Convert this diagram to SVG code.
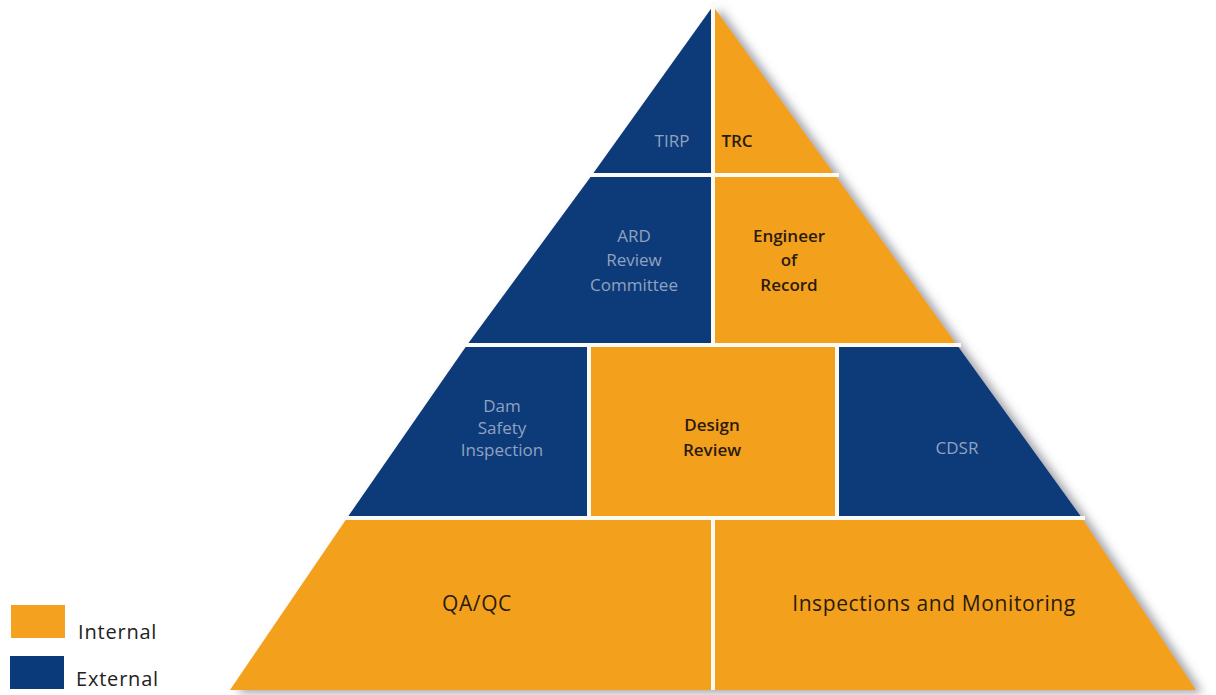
<svg xmlns="http://www.w3.org/2000/svg" width="1216" height="695" viewBox="0 0 1216 695">
<defs>
<filter id="sh" x="-10%" y="-10%" width="125%" height="125%">
<feDropShadow dx="7" dy="3" stdDeviation="5" flood-color="#555a66" flood-opacity="0.55"/>
</filter>
<style>
.org{fill:#F3A11E;}
.nav{fill:#0A3A79;}
.gap{stroke:#fbfaf4;stroke-width:4;fill:none;}
.tb{font-family:"Open Sans","Liberation Sans",sans-serif;font-size:17px;fill:#90A2C0;text-anchor:middle;}
.to{font-family:"Open Sans","Liberation Sans",sans-serif;font-size:17px;font-weight:600;fill:#2A1B0E;text-anchor:middle;}
.big{font-size:21px;font-weight:500;letter-spacing:0.6px;}
.lg{font-family:"Open Sans","Liberation Sans",sans-serif;font-size:20px;fill:#222;letter-spacing:0.8px;}
</style>
</defs>
<rect width="1216" height="695" fill="#fff"/>
<g id="pyramid" filter="url(#sh)">
<g id="tirp">
<polygon class="nav" points="713,6 713,175 592,175"/>
</g>
<g id="trc">
<polygon class="org" points="713,6 835,175 713,175"/>
</g>
<g id="ard">
<polygon class="nav" points="592,175 713,175 713,345 467,345"/>
</g>
<g id="eor">
<polygon class="org" points="713,175 835,175 957,345 713,345"/>
</g>
<g id="dsi">
<polygon class="nav" points="467,345 589,345 589,518 347,518"/>
</g>
<g id="dr">
<rect class="org" x="589" y="345" width="248" height="173"/>
</g>
<g id="cdsr">
<polygon class="nav" points="837,345 957,345 1082,518 837,518"/>
</g>
<g id="qaqc">
<polygon class="org" points="347,518 713,518 713,690 230,690"/>
</g>
<g id="im">
<polygon class="org" points="713,518 1082,518 1196,690 713,690"/>
</g>
</g>
<g id="gaps">
<line class="gap" x1="713" y1="2" x2="713" y2="345"/>
<line class="gap" x1="589" y1="175" x2="839" y2="175"/>
<line class="gap" x1="464" y1="345" x2="961" y2="345"/>
<line class="gap" x1="589" y1="345" x2="589" y2="518"/>
<line class="gap" x1="837" y1="345" x2="837" y2="518"/>
<line class="gap" x1="344" y1="518" x2="1085" y2="518"/>
<line class="gap" x1="713" y1="518" x2="713" y2="690"/>
</g>
<g id="labels">
<text class="tb" x="672" y="147">TIRP</text>
<text class="to" x="737" y="147">TRC</text>
<text class="tb" x="634" y="242">ARD</text>
<text class="tb" x="634" y="266">Review</text>
<text class="tb" x="634" y="291">Committee</text>
<text class="to" x="789" y="242">Engineer</text>
<text class="to" x="789" y="266">of</text>
<text class="to" x="789" y="291">Record</text>
<text class="tb" x="502" y="412">Dam</text>
<text class="tb" x="502" y="434">Safety</text>
<text class="tb" x="502" y="456">Inspection</text>
<text class="to" x="712" y="431">Design</text>
<text class="to" x="712" y="456">Review</text>
<text class="tb" x="957" y="454">CDSR</text>
<text class="to big" x="477" y="611">QA/QC</text>
<text class="to big" x="934" y="611">Inspections and Monitoring</text>
</g>
<g id="legend-internal">
<rect class="org" x="11" y="605" width="54" height="33"/>
<text class="lg" x="78" y="639">Internal</text>
</g>
<g id="legend-external">
<rect class="nav" x="10" y="656" width="54" height="33"/>
<text class="lg" x="76" y="686">External</text>
</g>
</svg>
